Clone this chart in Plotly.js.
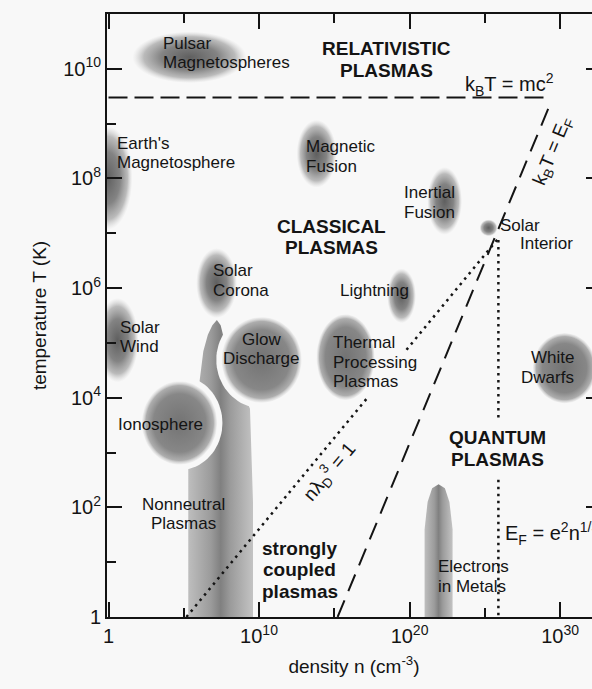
<!DOCTYPE html>
<html><head><meta charset="utf-8">
<script src="https://cdn.plot.ly/plotly-3.0.1.min.js"></script>
<style>html,body{margin:0;padding:0;overflow:hidden;background:#f8f8f8}#chart{width:610px;height:689px}</style>
</head><body><div id="chart"></div>
<script>
// ---- Plasma regimes: extents as log10 density (cm^-3) and log10 temperature (K)
const regionNames = ['Pulsar Magnetospheres', "Earth's Magnetosphere", 'Magnetic Fusion', 'Inertial Fusion',
  'Solar Interior', 'Solar Corona', 'Lightning', 'Solar Wind', 'Glow Discharge',
  'Thermal Processing Plasmas', 'White Dwarfs', 'Ionosphere'];
const regionLogNMin = [1.59, -1.73, 12.49, 21.17, 24.65, 5.82, 18.51, -0.8, 7.51, 13.82, 28.2, 2.22];
const regionLogNMax = [9.17, 1.59, 15.15, 23.49, 25.85, 8.54, 20.43, 2.0, 12.83, 17.68, 32.4, 7.22];
const regionLogTMin = [9.74, 7.06, 7.83, 6.97, 6.945, 5.45, 5.36, 4.28, 3.91, 3.96, 3.9, 2.78];
const regionLogTMax = [10.68, 8.96, 9.07, 8.21, 7.255, 6.73, 6.36, 5.82, 5.47, 5.52, 5.18, 4.30];

// Nonneutral plasmas band (log10 n, log10 T outline)
const nonneutralLogN = [5.3, 5.3, 5.6, 6.05, 6.3, 6.6, 6.9, 7.2, 7.45, 7.7, 8.3, 9.4, 9.6, 9.6];
const nonneutralLogT = [0, 2.7, 3.6, 4.3, 4.85, 5.15, 5.32, 5.42, 5.32, 5.05, 4.5, 3.8, 2.1, 0];
// Electrons in metals band
const metalsLogN = [21.0, 21.0, 21.2, 21.5, 21.93, 22.35, 22.65, 22.86, 22.86];
const metalsLogT = [0, 1.6, 2.1, 2.35, 2.42, 2.35, 2.1, 1.6, 0];

// Boundary curves (density cm^-3, temperature K)
const mcN = [1, 1e29];              const mcT = [3.0e9, 3.0e9];           // kB T = mc^2
const fermiN = [1.66e15, 1.74e29];  const fermiT = [1, 1.95e9];           // kB T = E_F
const debyeN = [1.5e5, 1.6e17, null, 6.3e19, 7.1e25];                     // n lambda_D^3 = 1
const debyeT = [1, 1.0e4, null, 7.5e4, 7.8e6];
const couplingN = [8e25, 8e25, null, 8e25, 8e25];                         // E_F = e^2 n^(1/3)
const couplingT = [7.5e6, 3.6e3, null, 3.2e2, 1];

// Axis ticks
const xTickVals = [1, 1e10, 1e20, 1e30];
const xTickText = ['1', '10<sup>10</sup>', '10<sup>20</sup>', '10<sup>30</sup>'];
const xMinorVals = [1e5, 1e15, 1e25];
const yTickVals = [1, 1e2, 1e4, 1e6, 1e8, 1e10];
const yTickText = ['1', '10<sup>2</sup>', '10<sup>4</sup>', '10<sup>6</sup>', '10<sup>8</sup>', '10<sup>10</sup>'];
const yMinorVals = [1e1, 1e3, 1e5, 1e7, 1e9];

// Labels (log10 n, log10 T)
const labelLines = [['Pulsar','Magnetospheres'], ["Earth's",'Magnetosphere'], ['Magnetic','Fusion'], ['Inertial','Fusion'],
  ['Solar'], ['Interior'], ['Solar','Corona'], ['Lightning'], ['Solar','Wind'], ['Glow','Discharge'],
  ['Thermal','Processing','Plasmas'], ['White','Dwarfs'], ['Ionosphere'], ['Nonneutral','Plasmas'], ['Electrons','in Metals']];
const labelLogN = [3.46, 0.40, 12.96, 19.53, 25.85, 27.18, 6.78, 15.22, 0.66, 10.17, 14.75, 31.03, 0.53, 4.98, 21.73];
const labelLogT = [10.29, 8.46, 8.40, 7.56, 7.14, 6.82, 6.14, 5.95, 5.11, 4.89, 4.65, 4.55, 3.52, 1.88, 0.74];
const labelAlign = ['left','left','left','left','left','left','left','left','left','center','left','right','left','center','left'];

const regimeLines = [['RELATIVISTIC','PLASMAS'], ['CLASSICAL','PLASMAS'], ['QUANTUM','PLASMAS'], ['strongly','coupled','plasmas']];
const regimeLogN = [18.47, 14.82, 25.85, 12.69];
const regimeLogT = [10.17, 6.93, 3.07, 0.86];

const FONT = '"Liberation Sans", Arial, Helvetica, sans-serif';
const INK = '#141414';
const BG = '#f8f8f8';
const pow10 = v => (v === null ? null : Math.pow(10, v));

function ellipseTrace(nMin, nMax, tMin, tMax, scale, padN, padT) {
  const cx = (nMin + nMax) / 2, hx = (nMax - nMin) / 2 + (padN || 0);
  const cy = (tMin + tMax) / 2, hy = (tMax - tMin) / 2 + (padT || 0);
  const xs = [], ys = [];
  for (let i = 0; i <= 80; i++) {
    const a = 2 * Math.PI * i / 80;
    xs.push(pow10(cx + hx * Math.cos(a)));
    ys.push(pow10(cy + hy * Math.sin(a)));
  }
  const tr = {x: xs, y: ys, type: 'scatter', mode: 'lines', fill: 'toself', hoverinfo: 'skip',
    showlegend: false, line: {width: 0, color: 'rgba(0,0,0,0)'}};
  if (scale) tr.fillgradient = {type: 'radial', colorscale: scale};
  else tr.fillcolor = BG;
  return tr;
}

const blobScale = [[0, 'rgba(95,95,95,1)'], [0.5, 'rgba(125,125,125,0.95)'], [0.8, 'rgba(160,160,160,0.7)'], [1, 'rgba(200,200,200,0)']];
const discScale = [[0, 'rgba(115,115,115,1)'], [0.7, 'rgba(135,135,135,1)'], [0.9, 'rgba(160,160,160,0.85)'], [1, 'rgba(210,210,210,0.2)']];
const bandScale = [[0, 'rgba(190,190,190,1)'], [0.35, 'rgba(155,155,155,1)'], [0.5, 'rgba(128,128,128,1)'], [0.65, 'rgba(155,155,155,1)'], [1, 'rgba(195,195,195,1)']];

const traces = [];
traces.push({x: nonneutralLogN.map(pow10), y: nonneutralLogT.map(pow10), type: 'scatter', mode: 'lines', fill: 'toself',
  hoverinfo: 'skip', showlegend: false, line: {width: 0, color: 'rgba(0,0,0,0)'}, line_shape: 'spline',
  fillgradient: {type: 'horizontal', colorscale: bandScale}});
traces.push({x: metalsLogN.map(pow10), y: metalsLogT.map(pow10), type: 'scatter', mode: 'lines', fill: 'toself',
  hoverinfo: 'skip', showlegend: false, line: {width: 0, color: 'rgba(0,0,0,0)'},
  fillgradient: {type: 'horizontal', colorscale: bandScale}});

// white halos behind Glow Discharge and Ionosphere
[8, 11].forEach(i => traces.push(ellipseTrace(regionLogNMin[i], regionLogNMax[i], regionLogTMin[i], regionLogTMax[i], null, 0.35, 0.1)));

regionNames.forEach((name, i) => {
  const sc = (i === 8 || i === 11 || i === 9 || i === 10) ? discScale : blobScale;
  const tr = ellipseTrace(regionLogNMin[i], regionLogNMax[i], regionLogTMin[i], regionLogTMax[i], sc);
  tr.name = name;
  traces.push(tr);
});

traces.push({x: mcN, y: mcT, type: 'scatter', mode: 'lines', hoverinfo: 'skip', showlegend: false,
  line: {color: INK, width: 2, dash: '19px,7px'}});
traces.push({x: fermiN, y: fermiT, type: 'scatter', mode: 'lines', hoverinfo: 'skip', showlegend: false,
  line: {color: INK, width: 2, dash: '18px,10px'}});
traces.push({x: debyeN, y: debyeT, type: 'scatter', mode: 'lines', hoverinfo: 'skip', showlegend: false, connectgaps: false,
  line: {color: INK, width: 2.5, dash: '2.5px,4.5px'}});
traces.push({x: couplingN, y: couplingT, type: 'scatter', mode: 'lines', hoverinfo: 'skip', showlegend: false, connectgaps: false,
  line: {color: INK, width: 2.5, dash: '2.5px,4.5px'}});

const annotations = [];
function addLabel(lines, ln, lt, align, size, bold, spacing) {
  const n = lines.length;
  lines.forEach((txt, k) => {
    annotations.push({x: ln, y: lt, xref: 'x', yref: 'y', showarrow: false,
      text: bold ? '<b>' + txt + '</b>' : txt, xanchor: align, yanchor: 'middle', align: align,
      yshift: ((n - 1) / 2 - k) * spacing, font: {family: FONT, size: size, color: INK}});
  });
}
labelLines.forEach((l, i) => addLabel(l, labelLogN[i], labelLogT[i], labelAlign[i], 17, false, 19.5));
regimeLines.forEach((l, i) => addLabel(l, regimeLogN[i], regimeLogT[i], 'center', 19, true, 21.5));

annotations.push({x: 26.64, y: 9.71, xref: 'x', yref: 'y', showarrow: false, text: 'k<sub>B</sub>T = mc<sup>2</sup>',
  font: {family: FONT, size: 20, color: INK}});
annotations.push({x: 29.5, y: 8.49, xref: 'x', yref: 'y', showarrow: false, text: 'k<sub>B</sub>T = E<sub>F</sub>',
  textangle: -67.5, font: {family: FONT, size: 19, color: INK}});
annotations.push({x: 14.68, y: 2.65, xref: 'x', yref: 'y', showarrow: false, text: 'nλ<sub>D</sub><sup>3</sup> = 1',
  textangle: -50, font: {family: FONT, size: 19, color: INK}});
annotations.push({x: 26.18, y: 1.53, xref: 'x', yref: 'y', showarrow: false, xanchor: 'left',
  text: 'E<sub>F</sub> = e<sup>2</sup>n<sup>1/3</sup>', font: {family: FONT, size: 20, color: INK}});

const axisCommon = {type: 'log', showgrid: false, zeroline: false, showline: true, linewidth: 2, linecolor: INK,
  mirror: 'allticks', ticks: 'inside', ticklen: 15, tickwidth: 2, tickcolor: INK, tickmode: 'array',
  tickfont: {family: FONT, size: 20, color: INK}};

const layout = {
  width: 610, height: 689,
  margin: {l: 107, r: 9, t: 14, b: 72},
  paper_bgcolor: BG, plot_bgcolor: BG,
  showlegend: false,
  xaxis: Object.assign({}, axisCommon, {range: [-0.1, 32.72], tickvals: xTickVals, ticktext: xTickText,
    minor: {tickmode: 'array', tickvals: xMinorVals, ticks: 'inside', ticklen: 9, tickwidth: 2, tickcolor: INK, showgrid: false},
    title: {text: 'density n (cm<sup>-3</sup>)', font: {family: FONT, size: 19, color: INK}, standoff: 14}}),
  yaxis: Object.assign({}, axisCommon, {range: [0, 11], tickvals: yTickVals, ticktext: yTickText,
    minor: {tickmode: 'array', tickvals: yMinorVals, ticks: 'inside', ticklen: 9, tickwidth: 2, tickcolor: INK, showgrid: false},
    title: {text: 'temperature T (K)', font: {family: FONT, size: 19, color: INK}, standoff: 12}}),
  annotations: annotations
};

Plotly.newPlot('chart', traces, layout, {displayModeBar: false, staticPlot: true});
</script>
</body></html>
